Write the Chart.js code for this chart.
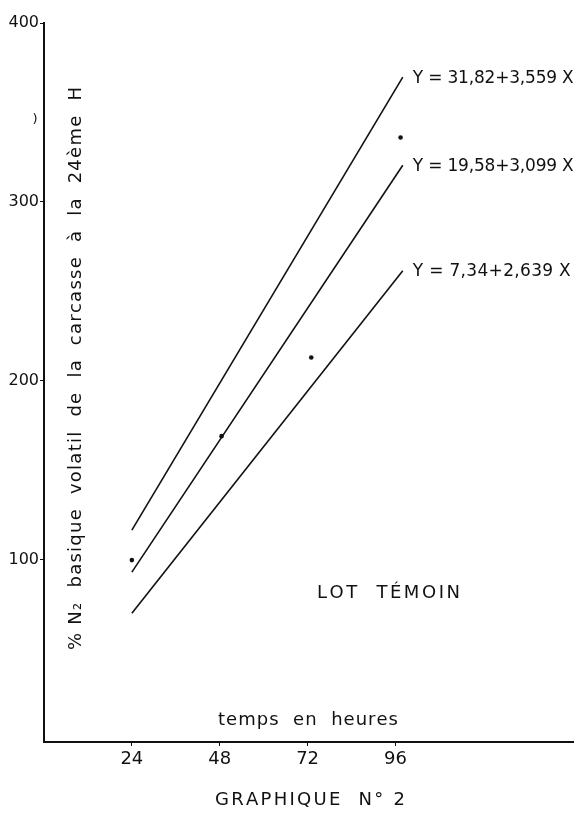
<!DOCTYPE html>
<html><head><meta charset="utf-8">
<script src="https://cdn.jsdelivr.net/npm/chart.js@4.4.1/dist/chart.umd.min.js"></script>
<style>html,body{margin:0;padding:0;background:#fff;}#wrap{width:577px;height:814px;}</style>
</head><body><div id="wrap"><canvas id="c" width="577" height="814"></canvas></div>
<script>
// ---- data ----
const xTicks = [24, 48, 72, 96];
const yTicks = [100, 200, 300, 400];
const lineX = [24, 98];
const lineHigh = [116.5, 369.7];
const lineMid = [93, 320.5];
const lineLow = [70, 261.5];
const obsX = [24, 48.5, 73, 97.4];
const obsY = [99.7, 169, 213, 336];
const eqLabels = ['Y = 31,82+3,559 X', 'Y = 19,58+3,099 X', 'Y = 7,34+2,639 X'];
const yTitle = '% N₂  basique  volatil  de  la  carcasse  à  la  24ème  H';
const xTitle = 'temps  en  heures';
const lotLabel = 'LOT  TÉMOIN';
const caption = 'GRAPHIQUE  N° 2';

const FONT = '"DejaVu Sans", sans-serif';
const INK = '#111';

function pts(xs, ys){ return xs.map((x,i)=>({x:x, y:ys[i]})); }

function spaced(ctx, text, left, cy, width, font){
  ctx.font = font;
  const chars = Array.from(text);
  const ws = chars.map(c => ctx.measureText(c).width);
  const total = ws.reduce((a,b)=>a+b,0);
  const gap = chars.length>1 ? (width-total)/(chars.length-1) : 0;
  let x = left;
  ctx.textAlign = 'left'; ctx.textBaseline = 'middle';
  chars.forEach((c,i)=>{ ctx.fillText(c, x, cy); x += ws[i] + gap; });
}

const textPlugin = {
  id: 'texts',
  afterDraw(chart){
    const ctx = chart.ctx;
    const xs = chart.scales.x, ys = chart.scales.y;
    ctx.save();
    ctx.fillStyle = INK;
    const ends = [lineHigh[1], lineMid[1], lineLow[1]];
    ends.forEach((v,i)=>{
      const px = xs.getPixelForValue(lineX[1]) + 10;
      const py = ys.getPixelForValue(v) + 1;
      spaced(ctx, eqLabels[i], px, py, i===2 ? 158 : 161, '17px ' + FONT);
    });
    spaced(ctx, lotLabel, 317, 593, 143, '18px ' + FONT);
    spaced(ctx, xTitle, 218, 720, 180, '18px ' + FONT);
    spaced(ctx, caption, 215, 800, 190, '18px ' + FONT);
    ctx.save();
    ctx.translate(76, 650);
    ctx.rotate(-Math.PI/2);
    spaced(ctx, yTitle, 0, 0, 563, '18px ' + FONT);
    ctx.restore();
    ctx.font = '13px ' + FONT;
    ctx.textAlign = 'center'; ctx.textBaseline = 'middle';
    ctx.fillText(')', 35, 120);
    ctx.restore();
  }
};

new Chart(document.getElementById('c'), {
  type: 'scatter',
  data: {
    datasets: [
      {data: pts(lineX, lineHigh), showLine: true, borderColor: INK, borderWidth: 1.6, pointRadius: 0},
      {data: pts(lineX, lineMid), showLine: true, borderColor: INK, borderWidth: 1.6, pointRadius: 0},
      {data: pts(lineX, lineLow), showLine: true, borderColor: INK, borderWidth: 1.6, pointRadius: 0},
      {data: pts(obsX, obsY), showLine: false, pointRadius: 2.3, backgroundColor: INK, borderColor: INK, borderWidth: 0}
    ]
  },
  options: {
    responsive: false,
    animation: false,
    layout: {padding: {top: 23, right: 0, left: 0, bottom: 0}},
    plugins: {legend: {display: false}, tooltip: {enabled: false}},
    scales: {
      x: {
        type: 'linear', min: 0, max: 144.5,
        afterBuildTicks: s => { s.ticks = xTicks.map(v => ({value: v})); },
        afterFit: s => { s.height = 72; },
        grid: {drawOnChartArea: false, drawTicks: true, tickLength: 4, color: INK},
        border: {color: INK, width: 2},
        ticks: {color: INK, font: {family: 'DejaVu Sans', size: 18}, padding: 3, maxRotation: 0}
      },
      y: {
        type: 'linear', min: -2, max: 400,
        afterBuildTicks: s => { s.ticks = yTicks.map(v => ({value: v})); },
        afterFit: s => { s.width = 44; },
        grid: {drawOnChartArea: false, drawTicks: true, tickLength: 4, color: INK},
        border: {color: INK, width: 2},
        ticks: {color: INK, font: {family: 'DejaVu Sans', size: 16}, padding: 1}
      }
    }
  },
  plugins: [textPlugin]
});
</script>
</body></html>
